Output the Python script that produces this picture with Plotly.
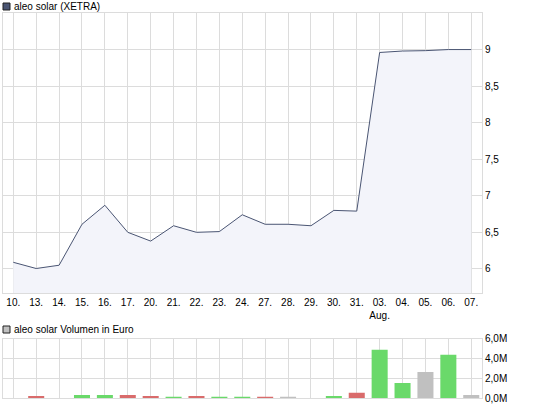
import plotly.graph_objects as go

# trading days (Jul/Aug)
days = ['10.', '13.', '14.', '15.', '16.', '17.', '20.', '21.', '22.', '23.', '24.',
        '27.', '28.', '29.', '30.', '31.', '03.<br>Aug.', '04.', '05.', '06.', '07.']

# closing prices (XETRA)
price = [6.09, 6.005, 6.05, 6.61, 6.87, 6.50, 6.38, 6.59, 6.50, 6.51, 6.74,
         6.61, 6.61, 6.59, 6.80, 6.79, 8.96, 8.98, 8.985, 9.0, 9.0]

# volume in Euro (millions) and bar colour per day
volume = [0.0, 0.2, 0.0, 0.3, 0.3, 0.3, 0.2, 0.1, 0.2, 0.1, 0.1,
          0.1, 0.1, 0.0, 0.2, 0.54, 4.88, 1.53, 2.64, 4.37, 0.3]
vol_dir = ['n', 'd', 'n', 'u', 'u', 'd', 'd', 'u', 'd', 'u', 'u',
           'd', 'n', 'n', 'u', 'd', 'u', 'u', 'n', 'u', 'n']

price_ticks = [6, 6.5, 7, 7.5, 8, 8.5, 9]
vol_ticks = [0, 2, 4, 6]

dir_colors = {'u': '#6ad96a', 'd': '#d96b6b', 'n': '#c0c0c0'}
grid = '#dcdcdc'
font = dict(family='Liberation Sans, Arial, sans-serif', size=10, color='#000000')

x = list(range(len(days)))

fig = go.Figure()

fig.add_trace(go.Scatter(x=x, y=price, mode='lines', fill='tozeroy',
                         line=dict(color='#4a5573', width=1),
                         fillcolor='#f3f4fa',
                         xaxis='x', yaxis='y', showlegend=False))

fig.add_trace(go.Bar(x=x, y=volume, marker=dict(color=[dir_colors[d] for d in vol_dir], line_width=0),
                     xaxis='x2', yaxis='y2', showlegend=False))

axis_common = dict(showgrid=True, gridcolor=grid, gridwidth=1, zeroline=False,
                   showline=True, linecolor=grid, mirror=True, linewidth=1,
                   automargin=False)

fig.update_layout(
    width=545, height=407,
    margin=dict(l=0, r=0, t=0, b=0),
    paper_bgcolor='white', plot_bgcolor='white',
    font=font,
    bargap=0.3,
    xaxis=dict(domain=[3/545, 482/545], range=[-0.45, 20.47], anchor='y',
               tickvals=x, ticktext=days, tickangle=0, ticks='', **axis_common),
    yaxis=dict(domain=[1 - 293/407, 1 - 13/407], range=[5.67, 9.5], side='right',
               tickvals=price_ticks, ticktext=[str(v).replace('.', ',') for v in price_ticks],
               ticks='', anchor='x', **axis_common),
    xaxis2=dict(domain=[3/545, 482/545], range=[-0.45, 20.47], anchor='y2',
                tickvals=x, showticklabels=False, ticks='', **axis_common),
    yaxis2=dict(domain=[1 - 398/407, 1 - 338.7/407], range=[0, 6], side='right',
                tickvals=vol_ticks, ticktext=[f'{v},0M' for v in vol_ticks],
                ticks='', anchor='x2', **axis_common),
)

# legend-style headings with small squares
fig.add_shape(type='rect', xref='paper', yref='paper',
              x0=3/545, x1=10/545, y0=1 - 10/407, y1=1 - 3/407,
              fillcolor='#4a5573', line=dict(color='#222222', width=1))
fig.add_annotation(x=12/545, y=1 - 6.5/407, xref='paper', yref='paper',
                   text='aleo solar (XETRA)', showarrow=False,
                   xanchor='left', yanchor='middle', font=font)
fig.add_shape(type='rect', xref='paper', yref='paper',
              x0=3/545, x1=10/545, y0=1 - 333/407, y1=1 - 326/407,
              fillcolor='#c0c0c0', line=dict(color='#222222', width=1))
fig.add_annotation(x=12/545, y=1 - 329.5/407, xref='paper', yref='paper',
                   text='aleo solar Volumen in Euro', showarrow=False,
                   xanchor='left', yanchor='middle', font=font)

fig.write_html("out.html", config={'displayModeBar': False},
               post_script="document.body.style.margin='0';")
